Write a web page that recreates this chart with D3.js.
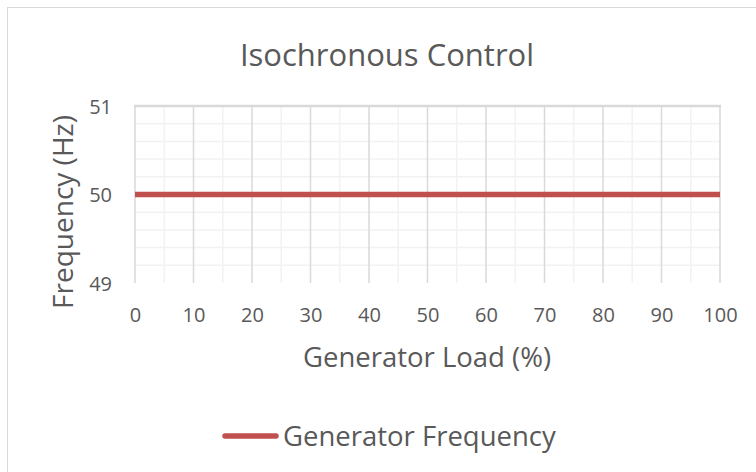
<!DOCTYPE html>
<html>
<head>
<meta charset="utf-8">
<script src="https://cdn.jsdelivr.net/npm/d3@7"></script>
<style>
  body { margin: 0; background: #fff; }
  text { font-family: "Open Sans", sans-serif; fill: #595959; }
</style>
</head>
<body>
<div id="chart"></div>
<script>
// data
const loadPct = [0, 10, 20, 30, 40, 50, 60, 70, 80, 90, 100]
const frequency = [50, 50, 50, 50, 50, 50, 50, 50, 50, 50, 50]
const yTicks = [49, 50, 51]
const seriesName = "Generator Frequency"

const width = 756
const height = 472
const plot = {left: 135, right: 720, top: 106, bottom: 283}

const svg = d3.select("#chart").append("svg")
              .attr("width", width)
              .attr("height", height)

// chart border
svg.append("rect")
   .attr("x", 7.5).attr("y", 7.5)
   .attr("width", 760).attr("height", 480)
   .attr("fill", "none")
   .attr("stroke", "#d9d9d9")

const xScale = d3.scaleLinear().domain([0, 100]).range([plot.left, plot.right])
const yScale = d3.scaleLinear().domain([49, 51]).range([plot.bottom, plot.top])

// minor gridlines
const grid = svg.append("g")
grid.selectAll(".xminor")
    .data(d3.range(5, 100, 10))
    .join("line")
    .attr("x1", d => xScale(d)).attr("x2", d => xScale(d))
    .attr("y1", plot.top).attr("y2", plot.bottom)
    .attr("stroke", "#f2f2f2").attr("stroke-width", 1.5)
grid.selectAll(".yminor")
    .data(d3.range(49.2, 51, 0.2).filter(v => Math.abs(v - 50) > 0.01))
    .join("line")
    .attr("x1", plot.left).attr("x2", plot.right)
    .attr("y1", d => yScale(d)).attr("y2", d => yScale(d))
    .attr("stroke", "#f2f2f2").attr("stroke-width", 1.5)

// major gridlines
grid.selectAll(".xmajor")
    .data(loadPct)
    .join("line")
    .attr("x1", d => xScale(d)).attr("x2", d => xScale(d))
    .attr("y1", plot.top).attr("y2", plot.bottom)
    .attr("stroke", "#d9d9d9").attr("stroke-width", 1.5)
grid.append("line")
    .attr("x1", plot.left - 1).attr("x2", plot.right + 1)
    .attr("y1", yScale(51)).attr("y2", yScale(51))
    .attr("stroke", "#d9d9d9").attr("stroke-width", 2.5)

// axes
const xAxis = d3.axisBottom(xScale).tickValues(loadPct).tickSize(0).tickPadding(0)
svg.append("g")
   .attr("transform", `translate(0, ${plot.bottom + 39})`)
   .call(xAxis)
   .call(g => g.select(".domain").remove())
   .selectAll("text")
   .attr("dy", 0)
   .attr("font-size", "20px")
   .style("fill", "#595959")

const yAxis = d3.axisLeft(yScale).tickValues(yTicks).tickFormat(d3.format("d")).tickSize(0).tickPadding(0)
svg.append("g")
   .attr("transform", `translate(${plot.left - 23}, 0)`)
   .call(yAxis)
   .call(g => g.select(".domain").remove())
   .selectAll("text")
   .attr("dy", "0.36em")
   .attr("font-size", "20px")
   .style("fill", "#595959")

// series line
const line = d3.line()
               .x((d, i) => xScale(loadPct[i]))
               .y(d => yScale(d))
svg.append("path")
   .attr("d", line(frequency))
   .attr("fill", "none")
   .attr("stroke", "#c0504d")
   .attr("stroke-width", 5.5)

// titles
svg.append("text")
   .attr("x", 387).attr("y", 66)
   .attr("text-anchor", "middle")
   .attr("font-size", "31px")
   .text("Isochronous Control")
svg.append("text")
   .attr("x", 427).attr("y", 367)
   .attr("text-anchor", "middle")
   .attr("font-size", "27.5px")
   .text("Generator Load (%)")
svg.append("text")
   .attr("transform", `translate(73, 212) rotate(-90)`)
   .attr("text-anchor", "middle")
   .attr("font-size", "28px")
   .text("Frequency (Hz)")

// legend
const legend = svg.append("g")
legend.append("line")
      .attr("x1", 225).attr("x2", 276)
      .attr("y1", 436).attr("y2", 436)
      .attr("stroke", "#c0504d")
      .attr("stroke-width", 5.5)
      .attr("stroke-linecap", "round")
legend.append("text")
      .attr("x", 283).attr("y", 446)
      .attr("font-size", "27.5px")
      .text(seriesName)
</script>
</body>
</html>
